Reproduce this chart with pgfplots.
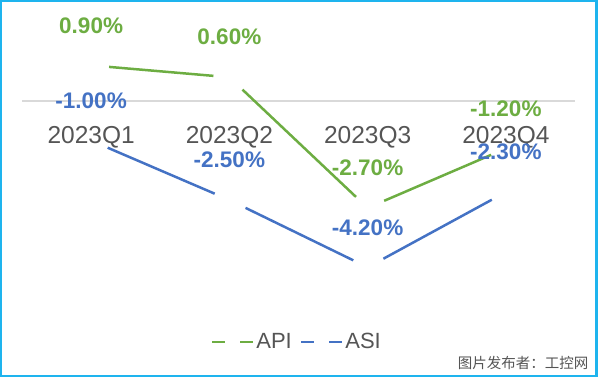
\documentclass[border=0pt]{standalone}
\usepackage{pgfplots}
\pgfplotsset{compat=1.18}
\usepackage{fontspec}
\setmainfont{Liberation Sans}
\newfontfamily\cjk{Noto Sans CJK SC}
\definecolor{apigreen}{HTML}{6DAD42}
\definecolor{asiblue}{HTML}{4472C4}
\definecolor{ticklab}{HTML}{555555}
\definecolor{zeroline}{HTML}{D9D9D9}
\definecolor{framecol}{HTML}{1EB4EE}
\begin{document}
\begin{tikzpicture}
\path[use as bounding box] (-22pt,-78pt) rectangle (578pt,299pt);
\begin{axis}[
  at={(0pt,0pt)}, anchor=south west,
  scale only axis, width=553pt, height=257.4pt,
  xmin=-0.5, xmax=3.5, ymin=-5, ymax=1.5,
  axis x line=middle, axis y line=none,
  axis line style={draw=zeroline, line width=1.5pt, -},
  xtick={0,1,2,3}, xticklabels={2023Q1,2023Q2,2023Q3,2023Q4},
  major tick length=0pt,
  xticklabel style={font=\fontsize{24.5}{28}\selectfont, text=ticklab, anchor=base, yshift=-43pt},
  ytick=\empty,
  clip=false,
  every node near coord/.append style={anchor=center, yshift=40pt, font=\fontsize{22.5}{26}\selectfont\bfseries},
  legend columns=2,
  legend style={at={(0.497,-0.167)}, anchor=center, draw=none, fill=none, font=\fontsize{22}{26}\selectfont, text=ticklab, /tikz/every even column/.append style={column sep=6pt}},
  seg/.style={line width=2.5pt, shorten <=18pt, shorten >=16pt, forget plot},
]
% API segments
\addplot[apigreen, seg] coordinates {(0,0.9) (1,0.6)};
\addplot[apigreen, seg] coordinates {(1,0.6) (2,-2.7)};
\addplot[apigreen, seg] coordinates {(2,-2.7) (3,-1.2)};
% ASI segments
\addplot[asiblue, seg] coordinates {(0,-1.0) (1,-2.5)};
\addplot[asiblue, seg] coordinates {(1,-2.5) (2,-4.2)};
\addplot[asiblue, seg] coordinates {(2,-4.2) (3,-2.3)};
% labels
\addplot[draw=none, mark=none, point meta=explicit symbolic, nodes near coords,
  every node near coord/.append style={text=apigreen},
  legend image code/.code={\draw[apigreen, line width=2.5pt, dash pattern=on 13pt off 15pt] (0pt,0pt) -- (41pt,0pt);}]
  coordinates {(0,0.9) [0.90\%] (1,0.6) [0.60\%] (2,-2.7) [-2.70\%] (3,-1.2) [-1.20\%]};
\addlegendentry{API}
\addplot[draw=none, mark=none, point meta=explicit symbolic, nodes near coords,
  every node near coord/.append style={text=asiblue},
  legend image code/.code={\draw[asiblue, line width=2.5pt, dash pattern=on 13pt off 15pt] (0pt,0pt) -- (41pt,0pt);}]
  coordinates {(0,-1.0) [-1.00\%] (1,-2.5) [-2.50\%] (2,-4.2) [-4.20\%] (3,-2.3) [-2.30\%]};
\addlegendentry{ASI}
\end{axis}
\draw[framecol, line width=2.5pt] (-21pt,-77pt) rectangle (574.5pt,298pt);
\node[font=\cjk\fontsize{14.5}{18}\selectfont, text=ticklab] at (501pt,-63.5pt) {图片发布者：工控网};
\end{tikzpicture}
\end{document}
